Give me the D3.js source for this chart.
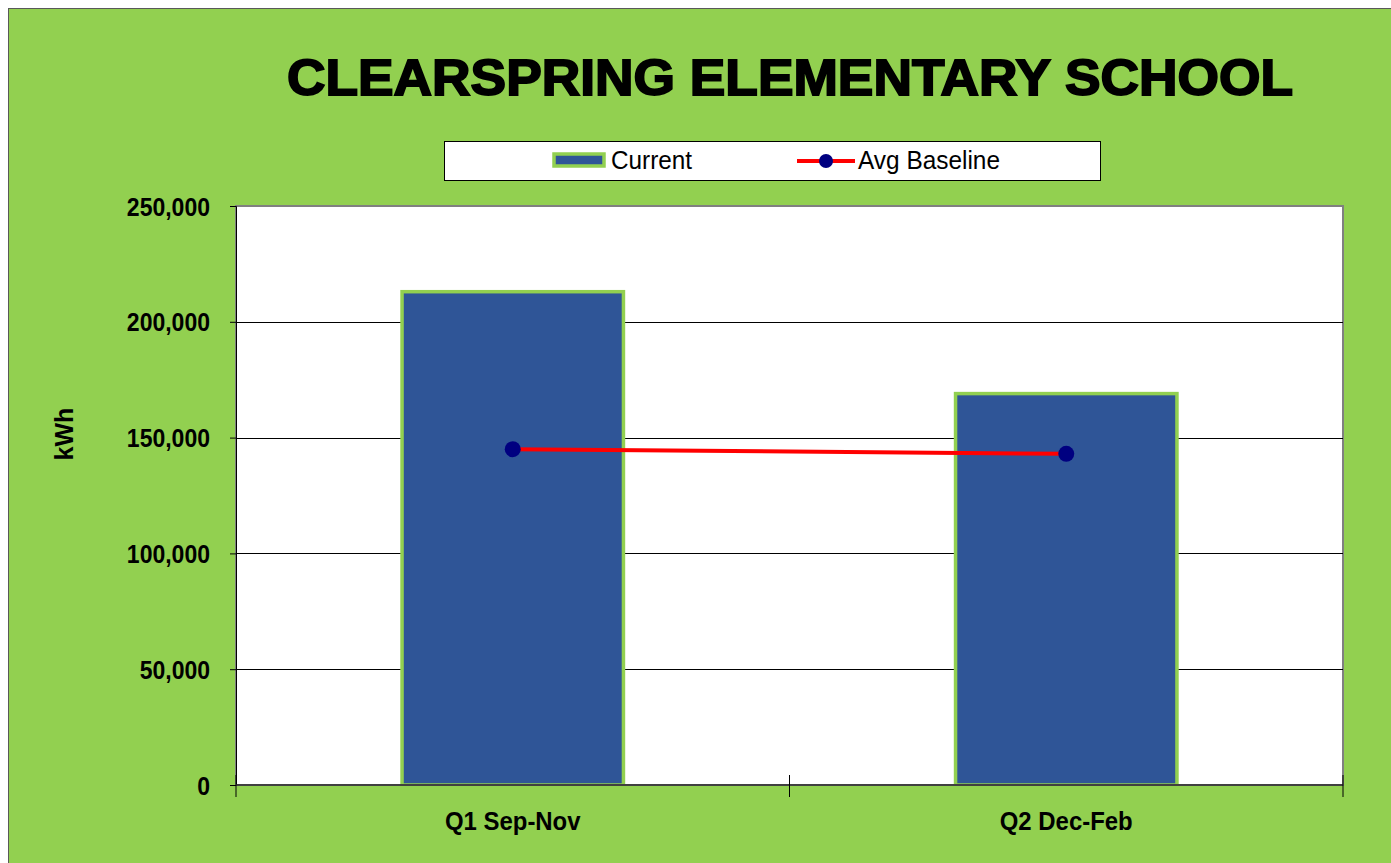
<!DOCTYPE html>
<html>
<head>
<meta charset="utf-8">
<script src="https://cdn.jsdelivr.net/npm/d3@7"></script>
<style>
  body { margin: 0; background: #fff; }
  svg text { font-family: "Liberation Sans Narrow", "Arial Narrow", "Liberation Sans", Arial, sans-serif; }
</style>
</head>
<body>
<svg id="chart" width="1391" height="863"></svg>
<script>
var categories = ['Q1 Sep-Nov', 'Q2 Dec-Feb'];
var currentValues = [213000, 169000];
var baselineValues = [145000, 143000];
var yTicks = [0, 50000, 100000, 150000, 200000, 250000];

var svg = d3.select('#chart');
var W = 1391, H = 863;
var margin = { left: 236, right: 1343, top: 206, bottom: 785 };

// squeeze text horizontally, like a narrow face
function narrow(sel, factor) {
    sel.each(function () {
        var w = this.getComputedTextLength();
        d3.select(this)
            .attr('textLength', w * factor)
            .attr('lengthAdjust', 'spacingAndGlyphs');
    });
}

// background frame
svg.append('rect')
    .attr('x', 8.5).attr('y', 8.5)
    .attr('width', W - 8).attr('height', H)
    .style('fill', '#92D050')
    .style('stroke', '#595959')
    .style('stroke-width', 1);

svg.append('text')
    .attr('x', 790).attr('y', 95)
    .attr('text-anchor', 'middle')
    .attr('textLength', 1006)
    .attr('lengthAdjust', 'spacingAndGlyphs')
    .style('font-family', '"Liberation Sans", Arial, sans-serif')
    .style('font-weight', 'bold')
    .style('font-size', '50px')
    .style('stroke', '#000').style('stroke-width', 1.8)
    .text('CLEARSPRING ELEMENTARY SCHOOL');

var x = d3.scaleBand()
    .domain(categories)
    .range([margin.left, margin.right])
    .paddingInner(0).paddingOuter(0);

var y = d3.scaleLinear()
    .domain([0, 250000])
    .range([margin.bottom, margin.top]);

// plot area
svg.append('rect')
    .attr('x', margin.left).attr('y', margin.top)
    .attr('width', margin.right - margin.left)
    .attr('height', margin.bottom - margin.top)
    .style('fill', '#fff')
    .style('stroke', '#808080')
    .style('stroke-width', 2);

// grid lines
svg.append('g')
    .selectAll('line')
    .data(yTicks.filter(function (d) { return d > 0 && d < 250000; }))
    .enter()
    .append('line')
    .attr('x1', margin.left).attr('x2', margin.right)
    .attr('y1', function (d) { return Math.round(y(d)) + 0.5; })
    .attr('y2', function (d) { return Math.round(y(d)) + 0.5; })
    .style('stroke', '#000')
    .style('stroke-width', 1);

// y axis
var yAxis = d3.axisLeft(y)
    .tickValues(yTicks)
    .tickSize(6)
    .tickFormat(d3.format(','));
var gy = svg.append('g')
    .attr('transform', 'translate(' + margin.left + ',0)')
    .call(yAxis);
gy.select('.domain').style('stroke', '#000');
gy.selectAll('.tick line').style('stroke', '#000');
gy.selectAll('.tick text')
    .attr('x', -26)
    .attr('dy', '0.36em')
    .style('font-size', '25px')
    .style('font-weight', 'bold')
    .style('fill', '#000')
    .call(narrow, 0.92);

// bars
svg.append('g')
    .selectAll('rect')
    .data(currentValues)
    .enter()
    .append('rect')
    .attr('x', function (d, i) { return x(categories[i]) + x.bandwidth() * 0.3; })
    .attr('width', x.bandwidth() * 0.4)
    .attr('y', function (d) { return y(d); })
    .attr('height', function (d) { return y(0) - y(d); })
    .style('fill', '#2F5597')
    .style('stroke', '#92D050')
    .style('stroke-width', 3.5);

// x axis
var gx = svg.append('g')
    .attr('transform', 'translate(0,' + margin.bottom + ')');
gx.append('line')
    .attr('x1', margin.left).attr('x2', margin.right)
    .style('stroke', '#404040').style('stroke-width', 2);
gx.selectAll('.tk')
    .data([margin.left, margin.left + x.bandwidth(), margin.right])
    .enter()
    .append('line')
    .attr('x1', function (d) { return d; })
    .attr('x2', function (d) { return d; })
    .attr('y1', -10).attr('y2', 12)
    .style('stroke', '#000').style('stroke-width', 1);
gx.selectAll('text')
    .data(categories)
    .enter()
    .append('text')
    .attr('x', function (d) { return x(d) + x.bandwidth() / 2; })
    .attr('y', 45)
    .attr('text-anchor', 'middle')
    .style('font-size', '26px')
    .style('font-weight', 'bold')
    .text(function (d) { return d; })
    .call(narrow, 0.92);

// baseline line
var line = d3.line()
    .x(function (d, i) { return x(categories[i]) + x.bandwidth() / 2; })
    .y(function (d) { return y(d); });
svg.append('path')
    .datum(baselineValues)
    .attr('d', line)
    .style('fill', 'none')
    .style('stroke', '#FF0000')
    .style('stroke-width', 4);
svg.append('g')
    .selectAll('circle')
    .data(baselineValues)
    .enter()
    .append('circle')
    .attr('cx', function (d, i) { return x(categories[i]) + x.bandwidth() / 2; })
    .attr('cy', function (d) { return y(d); })
    .attr('r', 8)
    .style('fill', '#000080');

// y axis title
svg.append('text')
    .attr('transform', 'translate(73,434) rotate(-90)')
    .attr('text-anchor', 'middle')
    .style('font-size', '25px')
    .style('font-weight', 'bold')
    .style('font-family', '"Liberation Sans", Arial, sans-serif')
    .text('kWh');

// legend
var lg = svg.append('g');
lg.append('rect')
    .attr('x', 444.5).attr('y', 141.5)
    .attr('width', 656).attr('height', 39)
    .style('fill', '#fff')
    .style('stroke', '#000')
    .style('stroke-width', 1);
lg.append('rect')
    .attr('x', 554).attr('y', 154)
    .attr('width', 50).attr('height', 12)
    .style('fill', '#2F5597')
    .style('stroke', '#92D050')
    .style('stroke-width', 3.5);
lg.append('text')
    .attr('x', 611).attr('y', 169)
    .style('font-size', '25px')
    .attr('textLength', 81)
    .attr('lengthAdjust', 'spacingAndGlyphs')
    .text('Current');
lg.append('line')
    .attr('x1', 797).attr('x2', 855)
    .attr('y1', 161).attr('y2', 161)
    .style('stroke', '#FF0000').style('stroke-width', 4);
lg.append('circle')
    .attr('cx', 826).attr('cy', 161).attr('r', 7)
    .style('fill', '#000080');
lg.append('text')
    .attr('x', 858).attr('y', 169)
    .style('font-size', '25px')
    .attr('textLength', 142)
    .attr('lengthAdjust', 'spacingAndGlyphs')
    .text('Avg Baseline');
</script>
</body>
</html>
